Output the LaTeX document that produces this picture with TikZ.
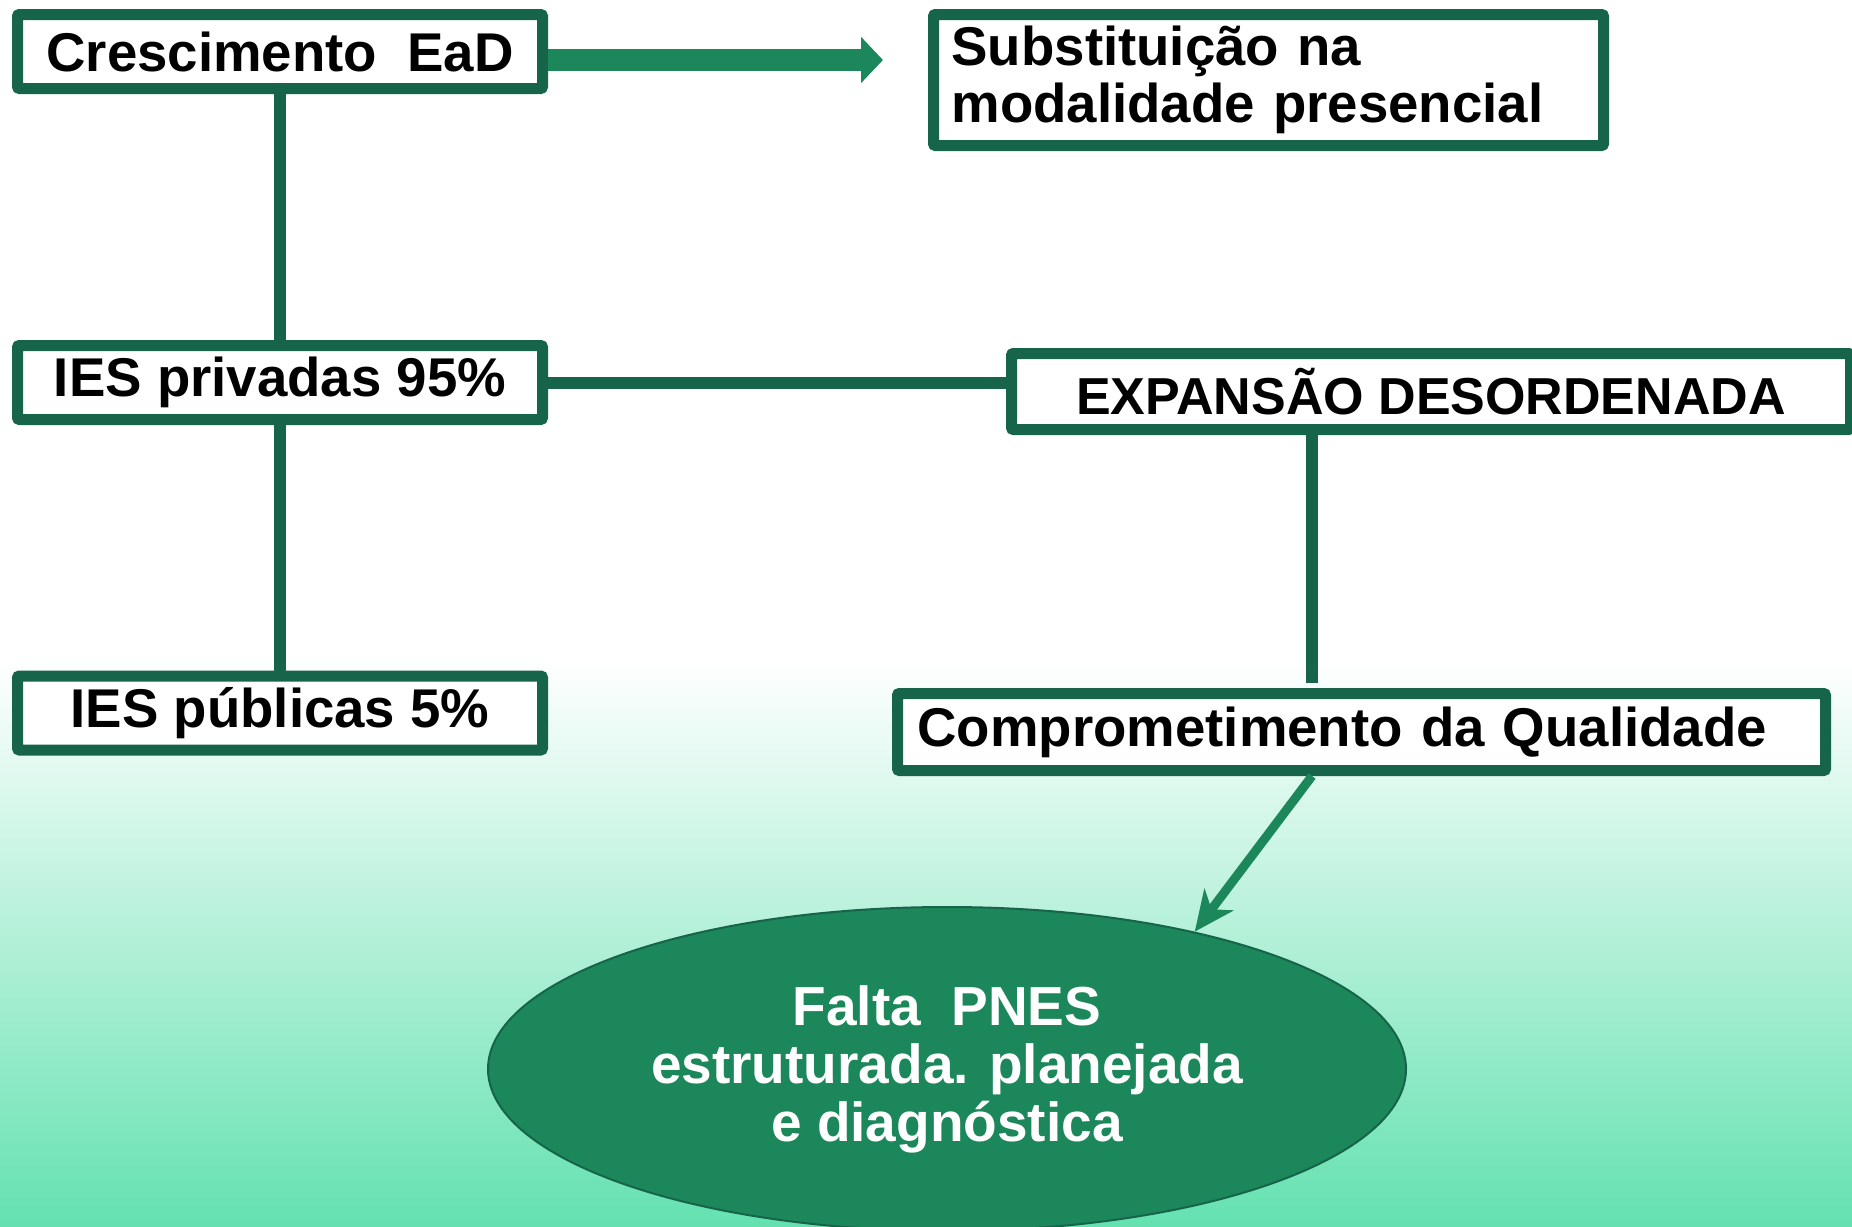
\documentclass[tikz,border=0pt]{standalone}
\usepackage{fontspec}
\setmainfont{Liberation Sans}
\usetikzlibrary{arrows.meta, shapes.geometric, positioning}
\definecolor{darkgreen}{HTML}{16644A}
\definecolor{midgreen}{HTML}{1B875A}
\definecolor{mint}{HTML}{64E1B0}
\tikzset{box/.style = {
  % Rectangle:
  rectangle,
  draw=darkgreen, fill=white,
  line width=5.5pt, rounded corners=1pt,
  minimum width=262.5pt, minimum height=37pt,
  % Text:
  font=\fontsize{27.3}{28.5}\selectfont\bfseries,
  text centered, align=center
  }}
\tikzset{leftbox/.style = {
  % Rectangle:
  box,
  inner xsep=#1,
  % Text:
  align=left
  }}
\tikzset{goal/.style = {
  % Ellipse:
  ellipse,
  draw=darkgreen, line width=1pt,
  fill=midgreen,
  minimum width=459pt, minimum height=162pt,
  % Text:
  text=white, align=center,
  font=\fontsize{27.5}{29}\selectfont\bfseries
  }}
\tikzset{link/.style = {
  draw=darkgreen,
  line width=6pt
  }}
\tikzset{bigarrow/.style = {
  -{Triangle[length=11pt, width=22.5pt]},
  draw=midgreen,
  line width=11pt
  }}
\tikzset{arrow/.style = {
  -{Stealth[length=20pt, width=18pt, inset=6pt]},
  draw=midgreen,
  line width=4.5pt
  }}

\begin{document}
\begin{tikzpicture}[x=0.5pt, y=-0.5pt]
  % BACKGROUND
  \useasboundingbox (0,0) rectangle (1852,1226);
  \fill [white] (0,0) rectangle (1852,662);
  \shade [top color=white, bottom color=mint] (0,660) rectangle (1852,1226);

  %
  % Specification of nodes
  %
  \node (growth) [box] at (280,51.5) {Crescimento\ \ EaD};
  \node (replace) [leftbox=9pt, text width=317pt, minimum height=65.5pt] at (1268.5,80) {Substituição na\\modalidade presencial};
  \node (private) [box] at (280,382.5) {IES privadas 95\%};
  \node (public) [box] at (280,713) {IES públicas 5\%};
  \node (expansion) [box, minimum width=419.5pt, minimum height=38pt, font=\fontsize{26}{28.5}\selectfont\bfseries] at (1431,391.5) {EXPANSÃO DESORDENADA};
  \node (quality) [leftbox=10pt, text width=444pt, minimum height=38.5pt] at (1361.5,732) {Comprometimento da Qualidade};
  \node (lack) [goal] at (947,1069) {Falta\ \ PNES\\estruturada. planejada\\e diagnóstica};

  \coordinate (replace-tip) at (883,60);
  \coordinate (quality-top) at (1312,683);

  %
  % Specification of lines
  %
  \draw [link] (growth.south) -- (private.north);
  \draw [link] (private.south) -- (public.north);
  \draw [link] (private.east) -- (private.east -| expansion.west);
  \draw [link] (expansion.south -| quality-top) -- (quality-top);

  \draw [bigarrow] (growth.east |- replace-tip) -- (replace-tip);
  \draw [arrow] (quality.south -| quality-top) -- (lack.29);
\end{tikzpicture}
\end{document}
